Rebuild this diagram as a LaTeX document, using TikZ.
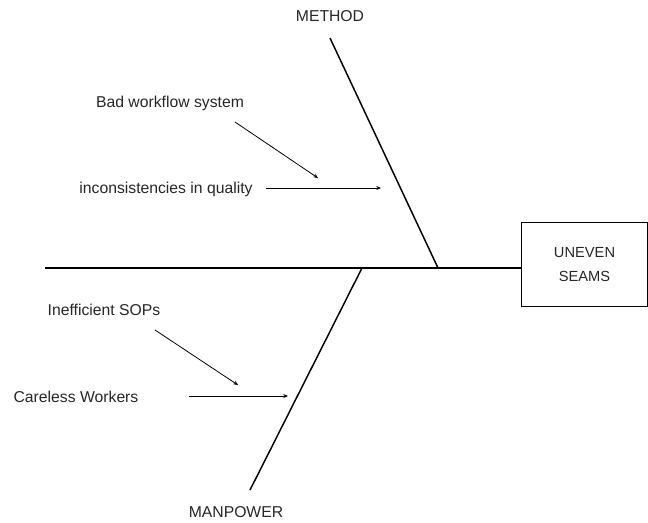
\documentclass[tikz,border=0pt]{standalone}
\usepackage{fontspec}
\setmainfont{Liberation Sans}
\usetikzlibrary{arrows.meta,positioning}

\tikzset{
    bone/.style={line width=1.1pt},
    cause/.style={-{Stealth[length=3.5pt,width=3pt]}, line width=0.6pt},
    lbl/.style={inner sep=0pt, text=black!85, font=\fontsize{11.8}{14}\selectfont},
}

\begin{document}
\begin{tikzpicture}[x=0.75pt, y=-0.75pt]
    \useasboundingbox (0,0) rectangle (648,522);

    % head of the fish
    \node[draw, line width=0.8pt, minimum width=94.5pt, minimum height=63pt, anchor=west, align=center, text=black!85, font=\fontsize{11}{17.5}\selectfont] (effect) at (521,264.5) {UNEVEN\\SEAMS};
    \coordinate (tail) at (45,268);
    \draw[bone] (tail) -- (effect.west |- tail);

    % main bones
    \coordinate (mtop) at (330,38);
    \coordinate (mfoot) at (438,268);
    \coordinate (ptop) at (362,268);
    \coordinate (pfoot) at (250,490);
    \draw[bone] (mtop) -- (mfoot);
    \draw[bone] (ptop) -- (pfoot);

    \node[lbl] (method) at (330,16) {METHOD};
    \node[lbl] (manpower) at (236,512) {MANPOWER};

    % causes
    \node[lbl] (workflow) at (170,103) {Bad workflow system};
    \node[lbl] (quality) at (166,189) {inconsistencies in quality};
    \node[lbl] (sops) at (104,310) {Inefficient SOPs};
    \node[lbl] (careless) at (76,397) {Careless Workers};

    \coordinate (w1) at (235,122);
    \coordinate (w2) at (318,178);
    \coordinate (q2) at (381,188);
    \coordinate (s1) at (155,330);
    \coordinate (s2) at (238,385);
    \coordinate (c2) at (288,396);

    \draw[cause] (w1) -- (w2);
    \draw[cause] ([xshift=9.5pt]quality.east |- q2) -- (q2);
    \draw[cause] (s1) -- (s2);
    \draw[cause] ([xshift=37.5pt]careless.east |- c2) -- (c2);
\end{tikzpicture}
\end{document}
